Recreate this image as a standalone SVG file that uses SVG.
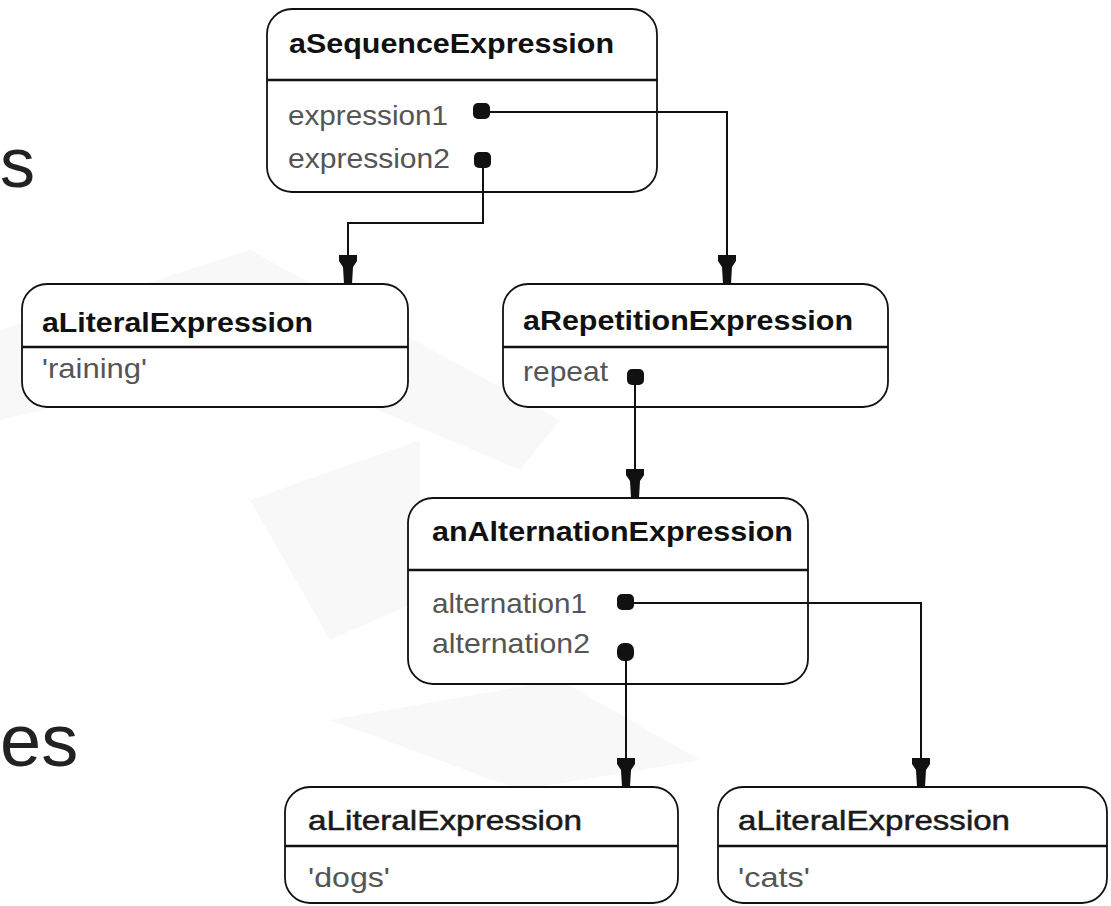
<svg xmlns="http://www.w3.org/2000/svg" width="1111" height="906" viewBox="0 0 1111 906">
<style>
.box{fill:#fff;stroke:#111;stroke-width:1.8}
.div{stroke:#111;stroke-width:2.6}
.title{font-family:"Liberation Sans",Arial,sans-serif;font-size:28px;font-weight:bold;fill:#111}
.title2{font-family:"Liberation Sans",Arial,sans-serif;font-size:28px;fill:#1a1a1a;stroke:#1a1a1a;stroke-width:0.5}
.attr{font-family:"Liberation Sans",Arial,sans-serif;font-size:28px;fill:#555}
.slide{font-family:"Liberation Sans",Arial,sans-serif;fill:#222}
.wire{fill:none;stroke:#111;stroke-width:2}
.dot{fill:#111}
.head{fill:#111}
.bg{fill:#f8f8f8}
</style>
<defs>
<polygon id="arrow" points="-9,-29 9,-29 9,-23 5,-17 4,0 -4,0 -5,-17 -9,-23"/>
</defs>
<rect width="1111" height="906" fill="#fff"/>
<g id="background">
<polygon class="bg" points="0,330 250,250 560,420 520,470 260,360 0,420"/>
<polygon class="bg" points="250,500 420,440 420,600 330,640"/>
<polygon class="bg" points="330,720 560,680 700,760 520,790"/>
</g>
<g id="slide-text">
<text class="slide" x="0" y="187" font-size="70">s</text>
<text class="slide" x="0" y="766" font-size="74">es</text>
</g>
<g id="aSequenceExpression">
<rect class="box" x="267" y="9" width="390" height="183" rx="25"/>
<line class="div" x1="267" y1="80" x2="657" y2="80"/>
<text class="title" x="289" y="53" textLength="325" lengthAdjust="spacingAndGlyphs">aSequenceExpression</text>
<text class="attr" x="288" y="125" textLength="160" lengthAdjust="spacingAndGlyphs">expression1</text>
<text class="attr" x="288" y="168" textLength="162" lengthAdjust="spacingAndGlyphs">expression2</text>
</g>
<g id="aLiteralExpression-raining">
<rect class="box" x="22" y="284" width="386" height="123" rx="25"/>
<line class="div" x1="22" y1="347" x2="408" y2="347"/>
<text class="title" x="42" y="332" textLength="271" lengthAdjust="spacingAndGlyphs">aLiteralExpression</text>
<text class="attr" x="42" y="378" textLength="105" lengthAdjust="spacingAndGlyphs">'raining'</text>
</g>
<g id="aRepetitionExpression">
<rect class="box" x="503" y="284" width="385" height="123" rx="25"/>
<line class="div" x1="503" y1="347" x2="888" y2="347"/>
<text class="title" x="523" y="330" textLength="330" lengthAdjust="spacingAndGlyphs">aRepetitionExpression</text>
<text class="attr" x="523" y="381" textLength="85" lengthAdjust="spacingAndGlyphs">repeat</text>
</g>
<g id="anAlternationExpression">
<rect class="box" x="408" y="498" width="400" height="186" rx="25"/>
<line class="div" x1="408" y1="570" x2="808" y2="570"/>
<text class="title" x="432" y="541" textLength="361" lengthAdjust="spacingAndGlyphs">anAlternationExpression</text>
<text class="attr" x="432" y="613" textLength="155" lengthAdjust="spacingAndGlyphs">alternation1</text>
<text class="attr" x="432" y="653" textLength="158" lengthAdjust="spacingAndGlyphs">alternation2</text>
</g>
<g id="aLiteralExpression-dogs">
<rect class="box" x="285" y="787" width="393" height="116" rx="25"/>
<line class="div" x1="285" y1="846" x2="678" y2="846"/>
<text class="title2" x="308" y="830" textLength="274" lengthAdjust="spacingAndGlyphs">aLiteralExpression</text>
<text class="attr" x="308" y="887" textLength="82" lengthAdjust="spacingAndGlyphs">'dogs'</text>
</g>
<g id="aLiteralExpression-cats">
<rect class="box" x="718" y="787" width="389" height="116" rx="25"/>
<line class="div" x1="718" y1="846" x2="1107" y2="846"/>
<text class="title2" x="738" y="830" textLength="272" lengthAdjust="spacingAndGlyphs">aLiteralExpression</text>
<text class="attr" x="738" y="887" textLength="72" lengthAdjust="spacingAndGlyphs">'cats'</text>
</g>
<g id="connectors">
<path class="wire" d="M481,112 H727 V258"/>
<path class="wire" d="M483,160 V223 H348 V258"/>
<path class="wire" d="M635,377 V472"/>
<path class="wire" d="M625,603 H921 V760"/>
<path class="wire" d="M626,652 V760"/>
<rect class="dot" x="473" y="103" width="17" height="16" rx="5"/>
<rect class="dot" x="474" y="152" width="17" height="16" rx="5"/>
<rect class="dot" x="627" y="369" width="17" height="16" rx="5"/>
<rect class="dot" x="617" y="594" width="17" height="16" rx="5"/>
<rect class="dot" x="617" y="643" width="17" height="18" rx="7"/>
<use href="#arrow" class="head" x="727" y="284"/>
<use href="#arrow" class="head" x="348" y="284"/>
<use href="#arrow" class="head" x="635" y="498"/>
<use href="#arrow" class="head" x="626" y="787"/>
<use href="#arrow" class="head" x="921" y="787"/>
</g>
</svg>
